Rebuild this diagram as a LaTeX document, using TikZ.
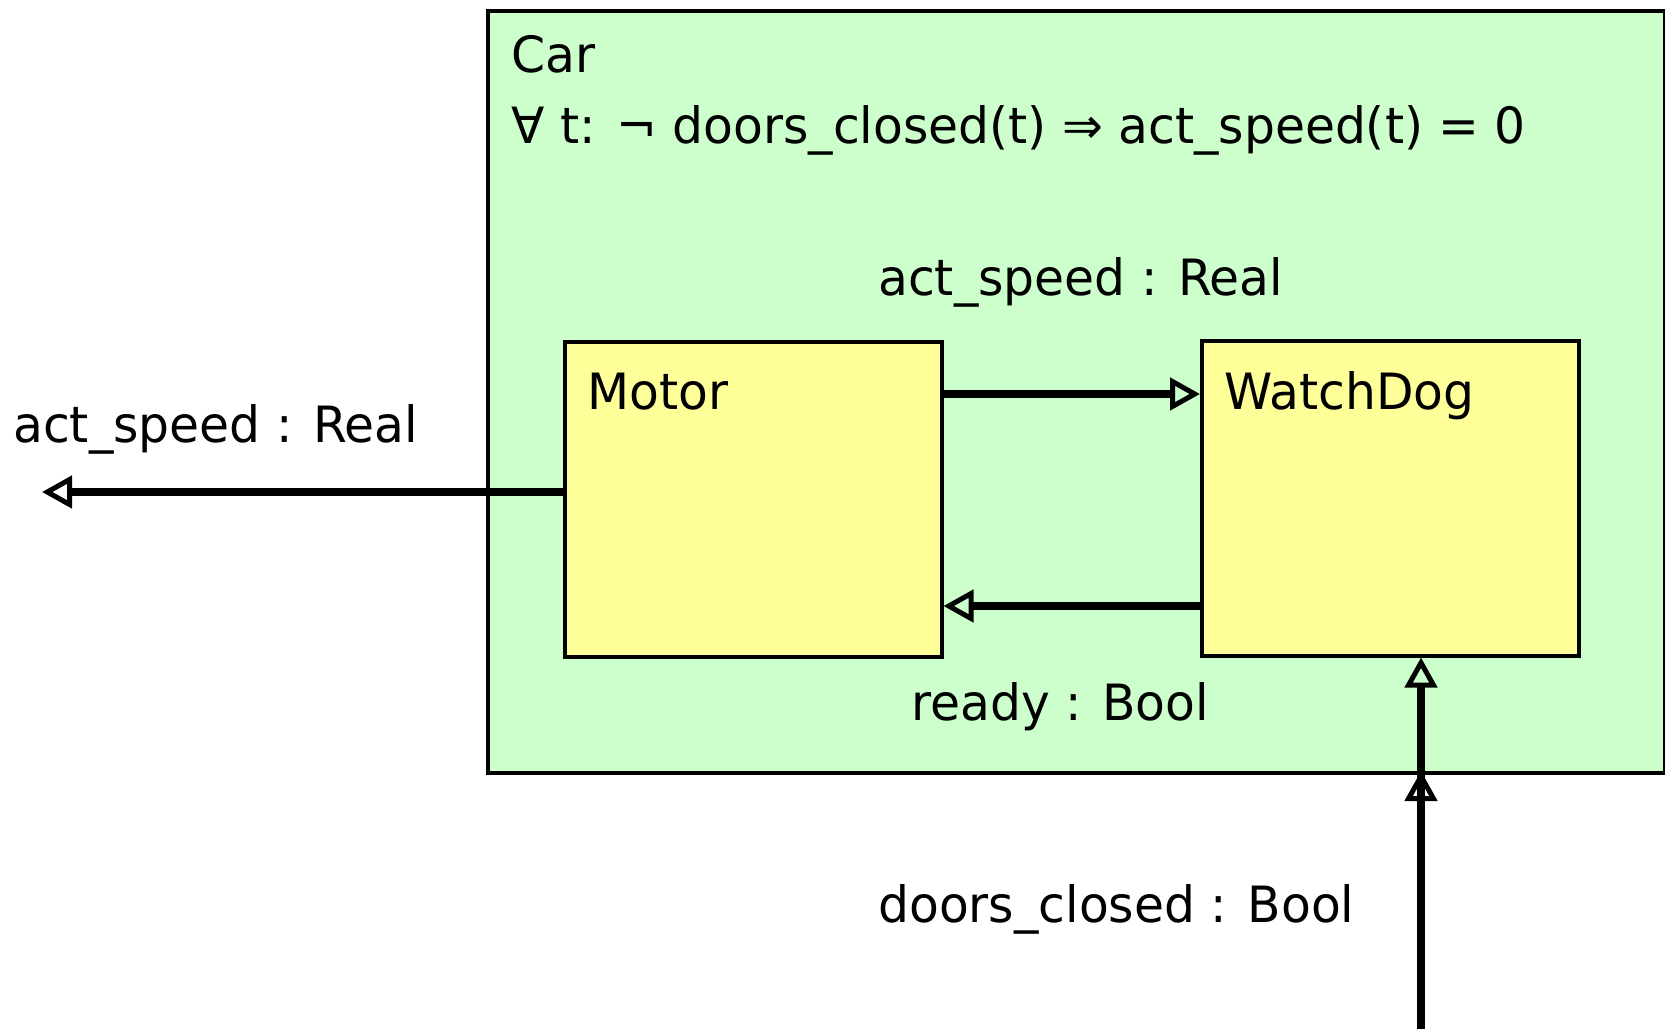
\documentclass[tikz,border=0pt]{standalone}
\usepackage{fontspec}
\setmainfont{DejaVu Sans}[FakeStretch=0.975]
\usetikzlibrary{arrows.meta}
\definecolor{cargreen}{HTML}{CCFFCC}
\definecolor{boxyellow}{HTML}{FFFF99}
\begin{document}
\begin{tikzpicture}[x=1pt,y=-1pt,
  lbl/.style={anchor=base west,inner sep=0pt,font=\fontsize{50}{60}\selectfont},
  comp/.style={draw=black,line width=3.5pt,fill=boxyellow},
  conn/.style={line width=7.5pt,-{Triangle[open,length=30pt,width=32pt,line width=5pt]}}]
\useasboundingbox (0,0) rectangle (1665,1029);
\node[draw=black,line width=3.5pt,fill=cargreen,minimum width=1177pt,minimum height=762pt,anchor=north west,inner sep=0pt] (car) at (486,9) {};
\node[comp,minimum width=377pt,minimum height=315pt,anchor=north west,inner sep=0pt] (motor) at (563,340) {};
\node[comp,minimum width=377pt,minimum height=315pt,anchor=north west,inner sep=0pt] (wd) at (1200,339) {};
\node[lbl] (carlbl) at (511,72) {Car};
\node[lbl] (formula) at (511,143) {∀ t: ¬ doors\_closed(t) ⇒ act\_speed(t) = 0};
\node[lbl] (motorlbl) at (587,409) {Motor};
\node[lbl] (wdlbl) at (1224,409) {WatchDog};
\node[lbl] (l1) at (878,295) {act\_speed : Real};
\node[lbl] (l2) at (13,442) {act\_speed : Real};
\node[lbl] (l3) at (911,720) {ready : Bool};
\node[lbl] (l4) at (878,922) {doors\_closed : Bool};
\coordinate (outL) at (42,492);
\coordinate (inB) at (1421,1029);
\coordinate (carB) at (1421,771);
\draw[conn] (motor.east |- 0,394) -- (wd.west |- 0,394);
\draw[conn] (wd.west |- 0,606) -- (motor.east |- 0,606);
\draw[conn] (motor.west |- 0,492) -- (outL);
\draw[line width=7.5pt] (inB) -- (carB);
\draw[conn] (inB) -- (carB);
\draw[conn] (carB) -- (wd.south -| carB);
\end{tikzpicture}
\end{document}
